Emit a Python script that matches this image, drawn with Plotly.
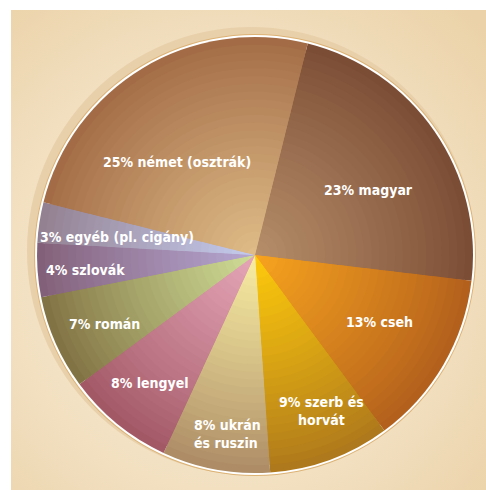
import base64
import math
import plotly.graph_objects as go

# Nationality shares, clockwise from the top
labels = ["magyar", "cseh", "szerb és horvát", "ukrán és ruszin", "lengyel",
          "román", "szlovák", "egyéb (pl. cigány)", "német (osztrák)"]
values = [23, 13, 9, 8, 8, 7, 4, 3, 25]
label_text = ["23% magyar", "13% cseh", "9% szerb és<br>horvát", "8% ukrán<br>és ruszin",
              "8% lengyel", "7% román", "4% szlovák", "3% egyéb (pl. cigány)",
              "25% német (osztrák)"]

# slice colours: rim shade and centre shade of each radial gradient
rim_colors = ["#7C4D35", "#B3601D", "#AE781C", "#AD8C66", "#A35866",
              "#827344", "#836079", "#938090", "#A36C46"]
hub_colors = ["#B58D69", "#F6A21E", "#FDC90C", "#F7ECA2", "#E4A5B6",
              "#CEDC95", "#B5A6D1", "#C4CAEC", "#DEBB87"]

# label placement: fraction of the radius and angular nudge (deg)
label_rfrac = [0.60, 0.65, 0.78, 0.83, 0.76, 0.76, 0.78, 0.64, 0.555]
label_dang = [5, -2, -3, -1.5, 0, -1, -1, -1, -9]
label_align = ["center", "center", "center", "left", "center", "center",
               "center", "center", "center"]

W, H = 486, 490
CX, CY, R = 255, 255, 218
ROTATION = 14
FONT = "DejaVu Sans Condensed, Liberation Sans Narrow, sans-serif"


def hex_rgb(h):
    h = h.lstrip("#")
    return tuple(int(h[i:i + 2], 16) for i in (0, 2, 4))


def mix(c1, c2, t):
    a, b = hex_rgb(c1), hex_rgb(c2)
    return "rgb(%d,%d,%d)" % tuple(round(a[i] + (b[i] - a[i]) * t) for i in range(3))


def domain_for(r):
    return dict(x=[(CX - r) / W, (CX + r) / W],
                y=[(H - CY - r) / H, (H - CY + r) / H])


fig = go.Figure()

# concentric pie layers build the radial shading of every slice
N = 28
for k in range(N):
    frac = 1 - k / N
    t = (k / (N - 1)) ** 0.9
    fig.add_trace(go.Pie(
        labels=labels, values=values, sort=False, direction="clockwise",
        rotation=ROTATION, domain=domain_for(R * frac),
        marker=dict(colors=[mix(rim_colors[i], hub_colors[i], t) for i in range(len(values))],
                    line=dict(width=0)),
        textinfo="none", hoverinfo="label+percent", showlegend=False,
    ))

# slice labels, placed along the middle of each slice
total = sum(values)
cum = 0
annotations = []
for i, v in enumerate(values):
    mid = ROTATION + (cum + v / 2) / total * 360 + label_dang[i]
    cum += v
    rr = R * label_rfrac[i]
    x = CX + rr * math.sin(math.radians(mid))
    y = CY - rr * math.cos(math.radians(mid))
    annotations.append(dict(
        x=x / W, y=1 - y / H, xref="paper", yref="paper", text=label_text[i],
        showarrow=False, align=label_align[i], xanchor="center", yanchor="middle",
        font=dict(family=FONT, size=14, color="white", weight="bold"),
    ))

# warm cream backdrop panel
svg = """<svg xmlns='http://www.w3.org/2000/svg' width='475' height='480'>
<defs><radialGradient id='g' cx='45%' cy='55%' r='75%'>
<stop offset='0' stop-color='#F7ECD6'/><stop offset='0.6' stop-color='#F2E0C1'/>
<stop offset='1' stop-color='#EBD2A8'/></radialGradient></defs>
<rect width='475' height='480' fill='url(#g)'/></svg>"""
src = "data:image/svg+xml;base64," + base64.b64encode(svg.encode()).decode()

shapes = [
    # soft halo behind the disc
    dict(type="circle", xref="paper", yref="paper", layer="below",
         x0=(251 - 224) / W, x1=(251 + 224) / W, y0=1 - (251 + 224) / H, y1=1 - (251 - 224) / H,
         fillcolor="#E8D0AB", line=dict(width=0)),
    # golden rim
    dict(type="circle", xref="paper", yref="paper", layer="below",
         x0=(CX - 221) / W, x1=(CX + 221) / W, y0=1 - (CY + 221) / H, y1=1 - (CY - 221) / H,
         fillcolor="#DDB274", line=dict(width=0)),
    # white edge
    dict(type="circle", xref="paper", yref="paper", layer="below",
         x0=(CX - 220) / W, x1=(CX + 220) / W, y0=1 - (CY + 220) / H, y1=1 - (CY - 220) / H,
         fillcolor="white", line=dict(width=0)),
]

fig.update_layout(
    width=W, height=H, margin=dict(l=0, r=0, t=0, b=0),
    paper_bgcolor="white", plot_bgcolor="white",
    images=[dict(source=src, xref="paper", yref="paper", x=11 / W, y=1 - 10 / H,
                 sizex=475 / W, sizey=480 / H, sizing="stretch", layer="below",
                 xanchor="left", yanchor="top")],
    shapes=shapes, annotations=annotations,
)

fig.write_html("out.html")
